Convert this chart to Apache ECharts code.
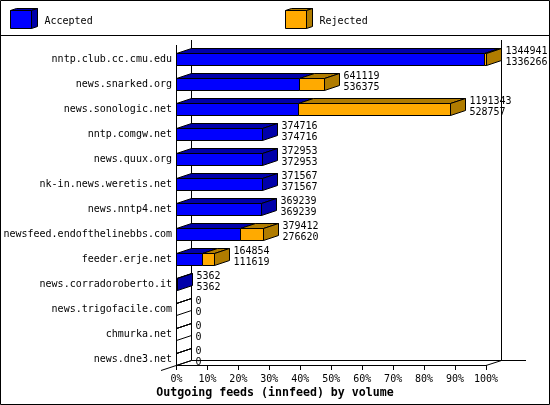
<!DOCTYPE html>
<html><head><meta charset="utf-8">
<style>html,body{margin:0;padding:0;background:#fff}#c{width:550px;height:405px}</style>
<script src="https://cdn.jsdelivr.net/npm/echarts@6/dist/echarts.min.js"></script>
</head><body><div id="c"></div>
<script>
const categories = ['nntp.club.cc.cmu.edu','news.snarked.org','news.sonologic.net','nntp.comgw.net','news.quux.org','nk-in.news.weretis.net','news.nntp4.net','newsfeed.endofthelinebbs.com','feeder.erje.net','news.corradoroberto.it','news.trigofacile.com','chmurka.net','news.dne3.net'];
const totals = [1344941,641119,1191343,374716,372953,371567,369239,379412,164854,5362,0,0,0];
const accepted = [1336266,536375,528757,374716,372953,371567,369239,276620,111619,5362,0,0,0];
const maxValue = 1344941;
const xTitle = 'Outgoing feeds (innfeed) by volume';
const legendNames = ['Accepted','Rejected'];
const MONO = '"DejaVu Sans Mono","Liberation Mono",monospace';
const BLUE = ['#0000ff','#0000aa','#0000aa'], ORANGE = ['#ffaa00','#b07c00','#b07c00'];
const DX = 15, DY = 5, H = 6;
const chart = echarts.init(document.getElementById('c'));
const ln = {stroke:'#000',lineWidth:1,fill:null};
const rows = categories.map((c,i)=>[i,accepted[i]/maxValue*100,totals[i]/maxValue*100,accepted[i],totals[i]]);
function snap(v){return Math.round(v-0.5)+0.5;}
function poly(points,fill){return {type:'polygon',shape:{points},style:{fill,stroke:'#000',lineWidth:1},z2:1};}
function renderBar(params,api){
  const i=api.value(0), a=api.value(1), t=api.value(2);
  const cy=api.coord([0,i])[1];
  const x0=snap(api.coord([0,i])[0]), xa=snap(api.coord([a,i])[0]), xt=snap(api.coord([t,i])[0]);
  const y1=snap(cy-H), y2=snap(cy+H);
  const kids=[];
  const seg=(l,r,col)=>{
    kids.push(poly([[l,y1],[r,y1],[r+DX,y1-DY],[l+DX,y1-DY]],col[1]));
    kids.push(poly([[l,y1],[r,y1],[r,y2],[l,y2]],col[0]));
  };
  seg(x0,xa,BLUE);
  if(t>a) seg(xa,xt,ORANGE);
  const sideFill = t===0 ? 'rgba(0,0,0,0)' : (t>a?ORANGE:BLUE)[2];
  kids.push(poly([[xt,y1],[xt+DX,y1-DY],[xt+DX,y2-DY],[xt,y2]],sideFill));
  const tx=xt+DX+4;
  kids.push({type:'text',z2:5,style:{x:tx,y:cy-8,text:String(api.value(4)),font:'10px '+MONO,fill:'#000',verticalAlign:'middle'}});
  kids.push({type:'text',z2:5,style:{x:tx,y:cy+3,text:String(api.value(3)),font:'10px '+MONO,fill:'#000',verticalAlign:'middle'}});
  return {type:'group',children:kids};
}
function line(x1,y1,x2,y2){return {type:'line',shape:{x1,y1,x2,y2},style:ln,silent:true,z:1};}
function legendIcon(x,col){return [
  {type:'polygon',shape:{points:[[x,10.5],[x+6,8.5],[x+27,8.5],[x+21,10.5]]},style:{fill:col[1],stroke:'#000',lineWidth:1}},
  {type:'polygon',shape:{points:[[x+21,10.5],[x+27,8.5],[x+27,26.5],[x+21,28.5]]},style:{fill:col[2],stroke:'#000',lineWidth:1}},
  {type:'rect',shape:{x:x,y:10.5,width:21,height:18},style:{fill:col[0],stroke:'#000',lineWidth:1}}
];}
chart.setOption({
  animation:false,
  backgroundColor:'#fff',
  title:{text:xTitle,left:'center',top:387,padding:0,
    textStyle:{color:'#000',fontFamily:MONO,fontSize:11.6,fontWeight:'bold'}},
  grid:{left:176.5,width:309.5,top:46.5,height:325,containLabel:false},
  xAxis:{type:'value',min:0,max:100,interval:10,offset:-6.5,
    axisLine:{show:true,onZero:false,lineStyle:{color:'#000',width:1}},
    axisTick:{show:true,length:5,lineStyle:{color:'#000',width:1}},
    axisLabel:{formatter:'{value}%',color:'#000',fontFamily:MONO,fontSize:10,margin:9,showMinLabel:true,showMaxLabel:true,hideOverlap:false},
    splitLine:{show:false}},
  yAxis:{type:'category',inverse:true,data:categories,
    axisLine:{show:false},axisTick:{show:false},
    axisLabel:{color:'#000',fontFamily:MONO,fontSize:10,margin:4.5,interval:0,padding:[2,0,0,0]}},
  series:[{type:'custom',data:rows,renderItem:renderBar,clip:false,
    encode:{x:[1,2],y:0},z:3}],
  graphic:[
    {type:'group',silent:true,z:0,children:[
      {type:'rect',shape:{x:0.5,y:0.5,width:549,height:404},style:{fill:null,stroke:'#000',lineWidth:1}},
      line(0,35.5,550,35.5),
      line(176.5,45,176.5,365),
      line(191.5,40,191.5,360.5),
      line(501.5,40,501.5,360.5),
      line(191.5,360.5,526,360.5),
      line(161,370.5,191.5,360.5),
      line(486,365.5,501.5,360.5),
      ...legendIcon(10.5,BLUE),
      ...legendIcon(285.5,ORANGE),
      {type:'text',style:{x:44.5,y:21,text:legendNames[0],font:'10px '+MONO,fill:'#000',verticalAlign:'middle'}},
      {type:'text',style:{x:319.5,y:21,text:legendNames[1],font:'10px '+MONO,fill:'#000',verticalAlign:'middle'}}
    ]}
  ]
});
</script></body></html>
